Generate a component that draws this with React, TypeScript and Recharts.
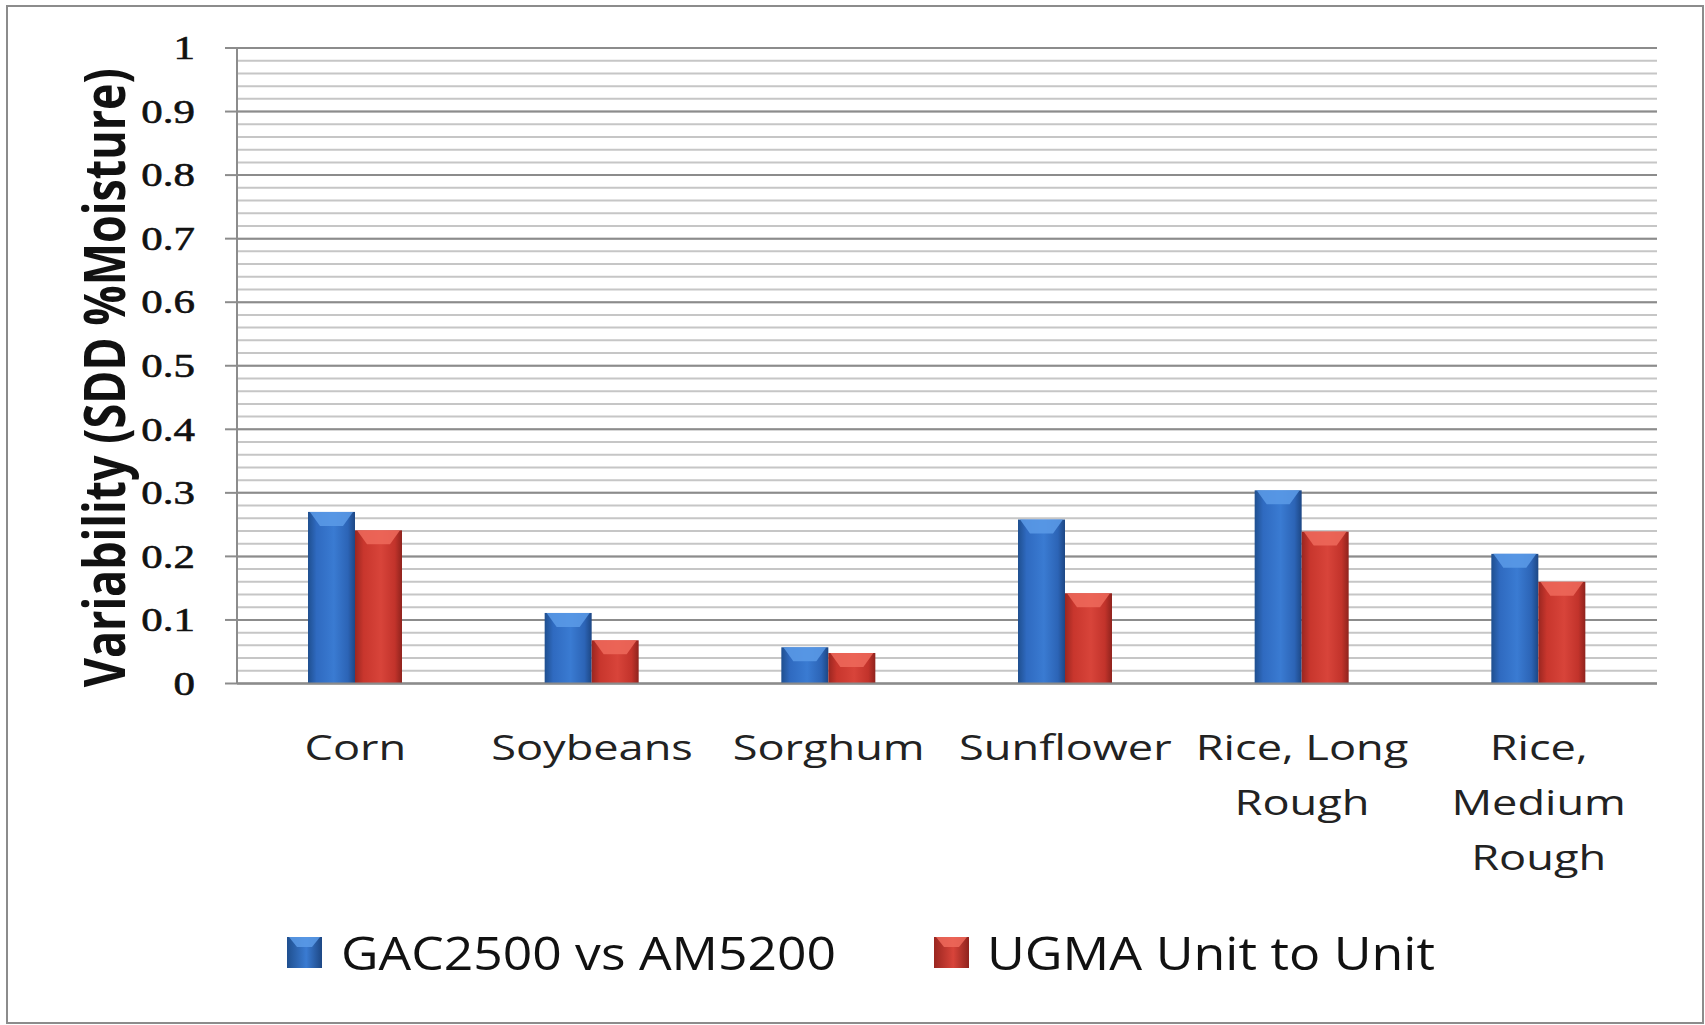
import React from 'react';
import { BarChart, Bar, XAxis, YAxis, CartesianGrid } from 'recharts';

const categories = ['Corn', 'Soybeans', 'Sorghum', 'Sunflower', 'Rice, Long Rough', 'Rice, Medium Rough'];
const categoryLines = [['Corn'], ['Soybeans'], ['Sorghum'], ['Sunflower'], ['Rice, Long', 'Rough'], ['Rice,', 'Medium', 'Rough']];
const gacValues = [0.27, 0.111, 0.057, 0.258, 0.304, 0.204];
const ugmaValues = [0.241, 0.068, 0.048, 0.142, 0.239, 0.16];
const yTicks = [0, 0.1, 0.2, 0.3, 0.4, 0.5, 0.6, 0.7, 0.8, 0.9, 1];
const seriesNames = ['GAC2500 vs AM5200', 'UGMA Unit to Unit'];
const yTitle = 'Variability (SDD %Moisture)';

const data = categories.map((name, i) => ({ name, gac: gacValues[i], ugma: ugmaValues[i] }));

// minor grid every 0.02
const minorTicks = Array.from({ length: 51 }, (_, i) => i / 50);

// the original picture is stretched sideways, so text is widened a bit
const STRETCH = 1.29;

const BevelBar = (props: any) => {
  const { x, y, width, height, gradId, topColor } = props;
  if (!height || height <= 0) return null;
  const b = Math.min(14, height / 2);
  return (
    <g>
      <rect x={x} y={y} width={width} height={height} fill={`url(#${gradId})`} />
      <polygon
        points={`${x + 2},${y} ${x + width - 2},${y} ${x + width - 12},${y + b} ${x + 12},${y + b}`}
        fill={topColor}
        opacity={0.85}
      />
    </g>
  );
};

const CategoryTick = (props: any) => {
  const { x, y, payload } = props;
  const idx = categories.indexOf(payload.value);
  const lines = idx >= 0 ? categoryLines[idx] : [payload.value];
  return (
    <text
      transform={`translate(${x},${y}) scale(${STRETCH},1)`}
      x={0}
      y={0}
      textAnchor="middle"
      fontFamily="Open Sans"
      fontSize={35}
      fill="#222"
    >
      {lines.map((l, i) => (
        <tspan key={i} x={0} dy={i === 0 ? 76.5 : 55}>
          {l}
        </tspan>
      ))}
    </text>
  );
};

const ValueTick = (props: any) => {
  const { x, y, payload } = props;
  return (
    <text
      transform={`translate(${x},${y}) scale(1.3,1)`}
      x={0}
      y={0}
      textAnchor="end"
      dominantBaseline="central"
      fontFamily="Liberation Serif"
      fontSize={33}
      fill="#111"
      stroke="#111"
      strokeWidth={0.6}
    >
      {payload.value}
    </text>
  );
};

const minorGen = ({ yAxis, offset }: any) =>
  minorTicks.map((v) =>
    yAxis && typeof yAxis.scale === 'function' ? yAxis.scale(v) : offset.top + offset.height * (1 - v)
  );

const LegendMark = ({ x, y, gradId, topColor }: any) => (
  <g>
    <rect x={x} y={y} width={35} height={31} fill={`url(#${gradId})`} />
    <polygon points={`${x + 2},${y} ${x + 33},${y} ${x + 25},${y + 10} ${x + 10},${y + 10}`} fill={topColor} opacity={0.85} />
  </g>
);

const App = () => {
  return (
    <div style={{ position: 'absolute', left: 0, top: 0, width: 1705, height: 1025, background: '#fff' }}>
      <div
        style={{
          position: 'absolute',
          left: 6,
          top: 5,
          width: 1698,
          height: 1019,
          border: '2px solid #8c8c8c',
          boxSizing: 'border-box',
        }}
      />
      <div style={{ position: 'absolute', left: 0, top: 0 }}>
        <BarChart
          width={1705}
          height={1025}
          data={data}
          margin={{ top: 48, right: 48, left: 0, bottom: 141.5 }}
          barGap={0}
          barSize={47}
        >
          <defs>
            <linearGradient id="blueGrad" x1="0" y1="0" x2="1" y2="0">
              <stop offset="0%" stopColor="#1f4f8f" />
              <stop offset="18%" stopColor="#2f6ac0" />
              <stop offset="55%" stopColor="#3a7bd2" />
              <stop offset="85%" stopColor="#2c64b6" />
              <stop offset="100%" stopColor="#1d4784" />
            </linearGradient>
            <linearGradient id="redGrad" x1="0" y1="0" x2="1" y2="0">
              <stop offset="0%" stopColor="#9a2620" />
              <stop offset="18%" stopColor="#c8362d" />
              <stop offset="55%" stopColor="#d8443a" />
              <stop offset="85%" stopColor="#c2332b" />
              <stop offset="100%" stopColor="#8f231d" />
            </linearGradient>
          </defs>
          <CartesianGrid
            vertical={false}
            stroke="#c6c6c6"
            strokeWidth={2}
            horizontalCoordinatesGenerator={minorGen}
          />
          <CartesianGrid vertical={false} stroke="#8c8c8c" strokeWidth={2} />
          <XAxis
            dataKey="name"
            height={200}
            tickLine={false}
            tickSize={0}
            tickMargin={0}
            axisLine={{ stroke: '#8c8c8c', strokeWidth: 2 }}
            tick={<CategoryTick />}
            interval={0}
          />
          <YAxis
            width={237}
            domain={[0, 1]}
            ticks={yTicks}
            interval={0}
            tickSize={12}
            tickMargin={30}
            axisLine={{ stroke: '#8c8c8c', strokeWidth: 2 }}
            tickLine={{ stroke: '#8c8c8c', strokeWidth: 2 }}
            tick={<ValueTick />}
            label={({ viewBox }: any) => {
              const cy = viewBox.y + viewBox.height / 2 + 12;
              return (
                <text
                  transform={`translate(125,${cy}) rotate(-90) scale(1,${STRETCH})`}
                  x={0}
                  y={0}
                  textAnchor="middle"
                  fontFamily="Open Sans"
                  fontWeight="bold"
                  fontSize={44}
                  textLength={619}
                  lengthAdjust="spacingAndGlyphs"
                  fill="#111"
                >
                  {yTitle}
                </text>
              );
            }}
          />
          <Bar
            dataKey="gac"
            name={seriesNames[0]}
            isAnimationActive={false}
            shape={(p: any) => <BevelBar {...p} gradId="blueGrad" topColor="#5c9be8" />}
          />
          <Bar
            dataKey="ugma"
            name={seriesNames[1]}
            isAnimationActive={false}
            shape={(p: any) => <BevelBar {...p} gradId="redGrad" topColor="#ee6a5c" />}
          />
        </BarChart>
      </div>
      <svg width={1705} height={1025} style={{ position: 'absolute', left: 0, top: 0, pointerEvents: 'none' }}>
        <defs>
          <linearGradient id="legBlue" x1="0" y1="0" x2="1" y2="0">
            <stop offset="0%" stopColor="#1f4f8f" />
            <stop offset="55%" stopColor="#3a7bd2" />
            <stop offset="100%" stopColor="#1d4784" />
          </linearGradient>
          <linearGradient id="legRed" x1="0" y1="0" x2="1" y2="0">
            <stop offset="0%" stopColor="#9a2620" />
            <stop offset="55%" stopColor="#d8443a" />
            <stop offset="100%" stopColor="#8f231d" />
          </linearGradient>
        </defs>
        <LegendMark x={287} y={937} gradId="legBlue" topColor="#5c9be8" />
        <text
          x={341}
          y={970}
          fontFamily="Open Sans"
          fontSize={46}
          fill="#111"
          textLength={495}
          lengthAdjust="spacingAndGlyphs"
        >
          {seriesNames[0]}
        </text>
        <LegendMark x={934} y={937} gradId="legRed" topColor="#ee6a5c" />
        <text
          x={987}
          y={970}
          fontFamily="Open Sans"
          fontSize={46}
          fill="#111"
          textLength={448}
          lengthAdjust="spacingAndGlyphs"
        >
          {seriesNames[1]}
        </text>
      </svg>
    </div>
  );
};

export default App;
